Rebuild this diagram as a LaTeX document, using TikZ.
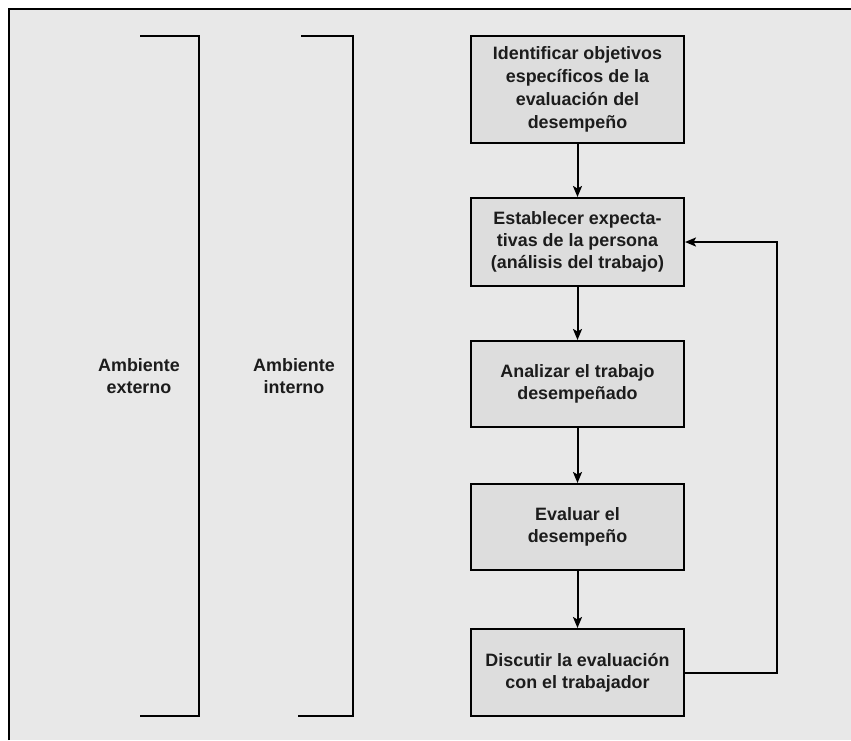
\documentclass[tikz,border=0pt]{standalone}
\usepackage{fontspec}
\setmainfont{Liberation Sans}
\usetikzlibrary{arrows.meta}
\definecolor{bggray}{RGB}{232,232,232}
\definecolor{boxgray}{RGB}{221,221,221}
\definecolor{txt}{RGB}{28,28,28}
\begin{document}
\begin{tikzpicture}[x=1pt,y=-1pt,
  stepbox/.style={draw=black,line width=2pt,fill=boxgray,minimum width=213pt,
    align=center,inner sep=0pt,text=txt,font=\bfseries\fontsize{17.9}{22}\selectfont},
  lbl/.style={align=center,text=txt,font=\bfseries\fontsize{17.9}{22}\selectfont},
  arr/.style={line width=2pt,-{Stealth[length=11pt,width=9pt,inset=2.5pt]}},
  brk/.style={line width=2pt}]
\useasboundingbox (0,0) rectangle (851,740);
\fill[white] (0,0) rectangle (851,740);
\fill[bggray] (9,9) rectangle (851,740);
\draw[line width=2.2pt] (9,740) -- (9,9) -- (851,9);
% brackets
\draw[brk] (140,36) -- (199,36) -- (199,716) -- (140,716);
\draw[brk] (301,36) -- (353,36) -- (353,716) -- (298,716);
\node[lbl] (ext) at (139,376) {Ambiente\\externo};
\node[lbl] (int) at (294,376) {Ambiente\\interno};
% boxes
\node[stepbox,minimum height=107pt,font=\bfseries\fontsize{17.9}{23}\selectfont] (a) at (577.5,89.5)
  {Identificar objetivos\\espec\'ificos de la\\evaluaci\'on del\\desempe\~no};
\node[stepbox,minimum height=88pt] (b) at (577.5,242)
  {Establecer expecta-\\tivas de la persona\\(an\'alisis del trabajo)};
\node[stepbox,minimum height=86pt] (c) at (577.5,384)
  {Analizar el trabajo\\desempe\~nado};
\node[stepbox,minimum height=86pt] (d) at (577.5,527)
  {Evaluar el\\desempe\~no};
\node[stepbox,minimum height=87pt] (e) at (577.5,672.5)
  {Discutir la evaluaci\'on\\con el trabajador};
\draw[arr] (a.south) -- (b.north);
\draw[arr] (b.south) -- (c.north);
\draw[arr] (c.south) -- (d.north);
\draw[arr] (d.south) -- (e.north);
\draw[arr] (e.east) -- ++(92,0) |- (b.east);
\end{tikzpicture}
\end{document}
